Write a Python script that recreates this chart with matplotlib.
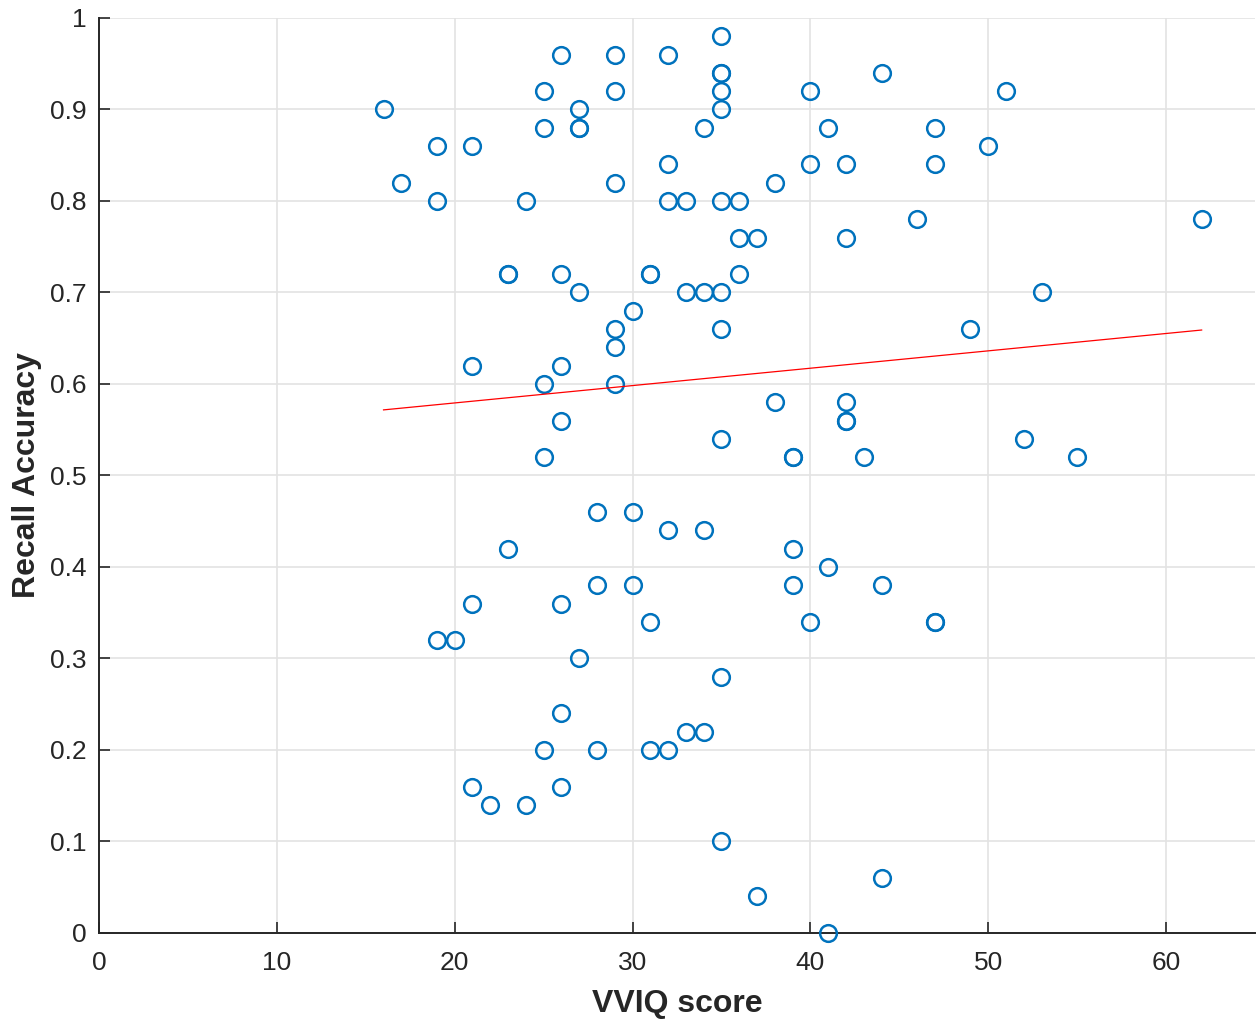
import numpy as np
import matplotlib
matplotlib.use("Agg")
import matplotlib.pyplot as plt

plt.rcParams['font.family'] = ['Liberation Sans', 'DejaVu Sans']

# VVIQ score per participant and the matching recall accuracy
vviq = [16, 17, 19, 19, 19, 20, 21, 21, 21, 21, 22, 23, 23, 23, 24, 24,
        25, 25, 25, 25, 25, 26, 26, 26, 26, 26, 26, 26, 27, 27, 27, 27, 27,
        28, 28, 28, 29, 29, 29, 29, 29, 29, 30, 30, 30, 31, 31, 31, 31,
        32, 32, 32, 32, 32, 33, 33, 33, 34, 34, 34, 34,
        35, 35, 35, 35, 35, 35, 35, 35, 35, 35, 35, 36, 36, 36, 37, 37,
        38, 38, 39, 39, 39, 39, 40, 40, 40, 41, 41, 41, 42, 42, 42, 42, 42,
        43, 44, 44, 44, 46, 47, 47, 47, 47, 49, 50, 51, 52, 53, 55, 62]
recall = [0.90, 0.82, 0.86, 0.80, 0.32, 0.32, 0.86, 0.62, 0.36, 0.16, 0.14, 0.72, 0.72, 0.42, 0.80, 0.14,
          0.92, 0.88, 0.60, 0.52, 0.20, 0.96, 0.72, 0.62, 0.56, 0.36, 0.24, 0.16, 0.90, 0.88, 0.88, 0.70, 0.30,
          0.46, 0.38, 0.20, 0.96, 0.92, 0.82, 0.66, 0.64, 0.60, 0.68, 0.46, 0.38, 0.72, 0.72, 0.34, 0.20,
          0.96, 0.84, 0.80, 0.44, 0.20, 0.80, 0.70, 0.22, 0.88, 0.70, 0.44, 0.22,
          0.98, 0.94, 0.94, 0.92, 0.90, 0.80, 0.70, 0.66, 0.54, 0.28, 0.10, 0.80, 0.76, 0.72, 0.76, 0.04,
          0.82, 0.58, 0.52, 0.52, 0.42, 0.38, 0.92, 0.84, 0.34, 0.88, 0.40, 0.00, 0.84, 0.76, 0.58, 0.56, 0.56,
          0.52, 0.94, 0.38, 0.06, 0.78, 0.88, 0.84, 0.34, 0.34, 0.66, 0.86, 0.92, 0.54, 0.70, 0.52, 0.78]

x = np.array(vviq, dtype=float)
y = np.array(recall)

# least-squares line over the observed score range
slope, intercept = np.polyfit(x, y, 1)
xfit = np.array([x.min(), x.max()])
yfit = slope * xfit + intercept

fig = plt.figure(figsize=(12.56, 10.22), dpi=100)
ax = fig.add_axes([0.0788, 0.0871, 0.9204, 0.8953])

ax.plot(x, y, 'o', ls='none', mfc='none', mec='#0072BD', ms=12, mew=1.8,
        clip_on=False, zorder=3)
ax.plot(xfit, yfit, color='red', lw=0.9, zorder=4)

ax.set_xlim(0, 65)
ax.set_ylim(0, 1)
ax.set_xticks(np.arange(0, 61, 10))
ax.set_yticks(np.arange(0, 1.01, 0.1))
ax.set_yticklabels(['0', '0.1', '0.2', '0.3', '0.4', '0.5', '0.6', '0.7', '0.8', '0.9', '1'])

ax.grid(True, color='#e3e3e3', lw=1.2)
ax.set_axisbelow(True)
for side in ['top', 'right']:
    ax.spines[side].set_visible(False)
for side in ['left', 'bottom']:
    ax.spines[side].set_color('#262626')
    ax.spines[side].set_linewidth(1.4)
ax.tick_params(direction='in', length=8, width=1.2, color='#262626',
               labelsize=19, labelcolor='#262626')
ax.tick_params(axis='x', pad=13)
ax.tick_params(axis='y', pad=9)

ax.set_xlabel('VVIQ score', fontsize=23, fontweight='bold', color='#262626', labelpad=10)
ax.set_ylabel('Recall Accuracy', fontsize=23, fontweight='bold', color='#262626', labelpad=6)

fig.savefig('out.png', dpi=100)
